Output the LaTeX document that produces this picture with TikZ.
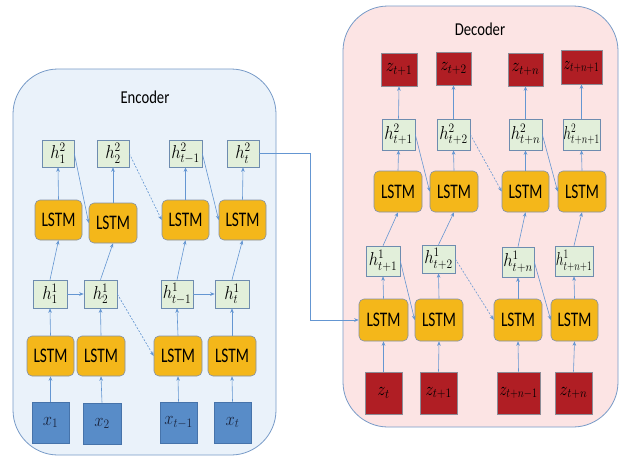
\documentclass[tikz,border=0pt]{standalone}
\usepackage[no-math]{fontspec}
\usepackage{graphicx}
\newfontfamily\calib{Carlito}
\usetikzlibrary{arrows.meta}

\definecolor{arrc}{RGB}{100,150,210}
\definecolor{lstmf}{RGB}{244,183,26}
\definecolor{lstmb}{RGB}{130,145,170}
\definecolor{hf}{RGB}{226,239,218}
\definecolor{hb}{RGB}{110,140,175}
\definecolor{xf}{RGB}{88,140,200}
\definecolor{xb}{RGB}{70,115,170}
\definecolor{xt}{RGB}{25,35,60}
\definecolor{zf}{RGB}{176,30,36}
\definecolor{zbb}{RGB}{140,140,150}
\definecolor{encf}{RGB}{234,242,250}
\definecolor{decf}{RGB}{252,228,228}
\definecolor{frame}{RGB}{120,155,200}

% a node given by its corners: style, name, x1, y1, x2, y2, text
\newcommand\cell[7]{\node[#1, minimum width={#5-#3}, minimum height={#6-#4}]
  (#2) at ({(#3+#5)/2},{(#4+#6)/2}) {#7};}
\newcommand\lt{\scalebox{0.74}[1]{\calib\huge LSTM}}
\newcommand\ml[2][0.8]{\scalebox{#1}[0.9]{\huge$#2$}}

\begin{document}
\begin{tikzpicture}[x=1pt,y=-1pt,
  arr/.style={draw=arrc, line width=0.6pt, -{Stealth[length=4.5pt,width=3.6pt]}},
  dsh/.style={arr, dash pattern=on 2pt off 1.5pt},
  frm/.style={draw=frame, line width=0.8pt, rounded corners=45pt, inner sep=0pt},
  lstm/.style={draw=lstmb, fill=lstmf, rounded corners=5pt, line width=0.6pt, inner sep=0pt},
  hbox/.style={draw=hb, fill=hf, line width=0.6pt, inner sep=0pt},
  xbox/.style={draw=xb, fill=xf, line width=0.6pt, inner sep=0pt, text=xt},
  zbox/.style={draw=zbb, fill=zf, line width=0.6pt, inner sep=0pt, text=black},
  ttl/.style={font=\calib, inner sep=0pt}]
\path[use as bounding box, fill=white] (0,0) rectangle (621,459);

% containers
\cell{frm, fill=encf}{enc}{13}{69}{276}{455}{}
\cell{frm, fill=decf}{dec}{343}{6}{618}{427}{}
\node[ttl] (enct) at (145,97) {\scalebox{0.85}[1.05]{\LARGE Encoder}};
\node[ttl] (dect) at (480,29) {\scalebox{0.85}[1.05]{\LARGE Decoder}};

% encoder inputs
\cell{xbox}{xa}{32}{402}{69}{443}{\ml{x_1}}
\cell{xbox}{xb}{83}{403}{121}{444}{\ml{x_2}}
\cell{xbox}{xc}{160}{402}{197}{443}{\ml{x_{t-1}}}
\cell{xbox}{xd}{214}{402}{251}{443}{\ml{x_t}}
% encoder first layer
\cell{lstm}{el1a}{27}{336}{74}{376}{\lt}
\cell{lstm}{el1b}{77}{336}{125}{376}{\lt}
\cell{lstm}{el1c}{154}{336}{202}{376}{\lt}
\cell{lstm}{el1d}{208}{336}{256}{376}{\lt}
\cell{hbox}{e1a}{33}{280}{67}{308}{\ml{h_1^1}}
\cell{hbox}{e1b}{84}{280}{117}{308}{\ml{h_2^1}}
\cell{hbox}{e1c}{161}{280}{193}{308}{\ml{h_{t-1}^1}}
\cell{hbox}{e1d}{215}{280}{249}{308}{\ml{h_t^1}}
% encoder second layer
\cell{lstm}{el2a}{35}{200}{82}{240}{\lt}
\cell{lstm}{el2b}{89}{203}{137}{243}{\lt}
\cell{lstm}{el2c}{162}{200}{209}{240}{\lt}
\cell{lstm}{el2d}{219}{200}{266}{240}{\lt}
\cell{hbox}{e2a}{42}{140}{74}{167}{\ml{h_1^2}}
\cell{hbox}{e2b}{97}{140}{129}{167}{\ml{h_2^2}}
\cell{hbox}{e2c}{169}{140}{202}{167}{\ml{h_{t-1}^2}}
\cell{hbox}{e2d}{227}{140}{259}{167}{\ml{h_t^2}}

% decoder inputs
\cell{zbox}{zb1}{365}{372}{402}{414}{\ml{z_t}}
\cell{zbox}{zb2}{420}{372}{457}{414}{\ml{z_{t+1}}}
\cell{zbox}{zb3}{497}{372}{540}{414}{\ml[0.72]{z_{t+n-1}}}
\cell{zbox}{zb4}{555}{372}{592}{414}{\ml{z_{t+n}}}
% decoder first layer
\cell{lstm}{dl1a}{359}{299}{408}{341}{\lt}
\cell{lstm}{dl1b}{415}{299}{463}{341}{\lt}
\cell{lstm}{dl1c}{494}{299}{542}{341}{\lt}
\cell{lstm}{dl1d}{551}{299}{598}{341}{\lt}
\cell{hbox}{d1a}{366}{246}{400}{276}{\ml{h_{t+1}^1}}
\cell{hbox}{d1b}{422}{245}{455}{273}{\ml{h_{t+2}^1}}
\cell{hbox}{d1c}{502}{247}{534}{277}{\ml{h_{t+n}^1}}
\cell{hbox}{d1d}{555}{246}{593}{276}{\ml[0.66]{h_{t+n+1}^1}}
% decoder second layer
\cell{lstm}{dl2a}{374}{171}{422}{212}{\lt}
\cell{lstm}{dl2b}{430}{171}{478}{212}{\lt}
\cell{lstm}{dl2c}{502}{171}{549}{212}{\lt}
\cell{lstm}{dl2d}{558}{171}{606}{212}{\lt}
\cell{hbox}{d2a}{382}{119}{415}{150}{\ml{h_{t+1}^2}}
\cell{hbox}{d2b}{437}{119}{470}{150}{\ml{h_{t+2}^2}}
\cell{hbox}{d2c}{509}{119}{542}{150}{\ml{h_{t+n}^2}}
\cell{hbox}{d2d}{563}{119}{600}{150}{\ml[0.66]{h_{t+n+1}^2}}
% decoder outputs
\cell{zbox}{zt1}{381}{53}{417}{86}{\ml{z_{t+1}}}
\cell{zbox}{zt2}{436}{52}{471}{85}{\ml{z_{t+2}}}
\cell{zbox}{zt3}{508}{53}{543}{86}{\ml{z_{t+n}}}
\cell{zbox}{zt4}{561}{50}{602}{84}{\ml[0.68]{z_{t+n+1}}}

% encoder connectors
\foreach \c in {a,b,c,d}{
  \draw[arr] (x\c.north) -- (el1\c.south);
  \draw[arr] (el1\c.north) -- (e1\c.south);
  \draw[arr] (e1\c.north) -- (el2\c.south);
  \draw[arr] (el2\c.north) -- (e2\c.south);
}
\draw[arr] (e1a.east) -- (e1b.west);
\draw[arr] (e1c.east) -- (e1d.west);
\draw[dsh] (e1b.east) -- (el1c.west);
\draw[arr] (e2a.east) -- (el2b.west);
\draw[dsh] (e2b.east) -- (el2c.west);
\draw[arr] (e2c.east) -- (el2d.west);

% context handed to the decoder
\coordinate (turn) at (310,153.5);
\draw[arr] (e2d.east) -- (turn) |- (dl1a.west);

% decoder connectors
\foreach \c/\n in {a/1,b/2,c/3,d/4}{
  \draw[arr] (zb\n.north) -- (dl1\c.south);
  \draw[arr] (dl1\c.north) -- (d1\c.south);
  \draw[arr] (d1\c.north) -- (dl2\c.south);
  \draw[arr] (dl2\c.north) -- (d2\c.south);
  \draw[arr] (d2\c.north) -- (zt\n.south);
}
\draw[arr] (d1a.east) -- (dl1b.west);
\draw[dsh] (d1b.east) -- (dl1c.west);
\draw[arr] (d1c.east) -- (dl1d.west);
\draw[arr] (d2a.east) -- (dl2b.west);
\draw[dsh] (d2b.east) -- (dl2c.west);
\draw[arr] (d2c.east) -- (dl2d.west);
\end{tikzpicture}
\end{document}
